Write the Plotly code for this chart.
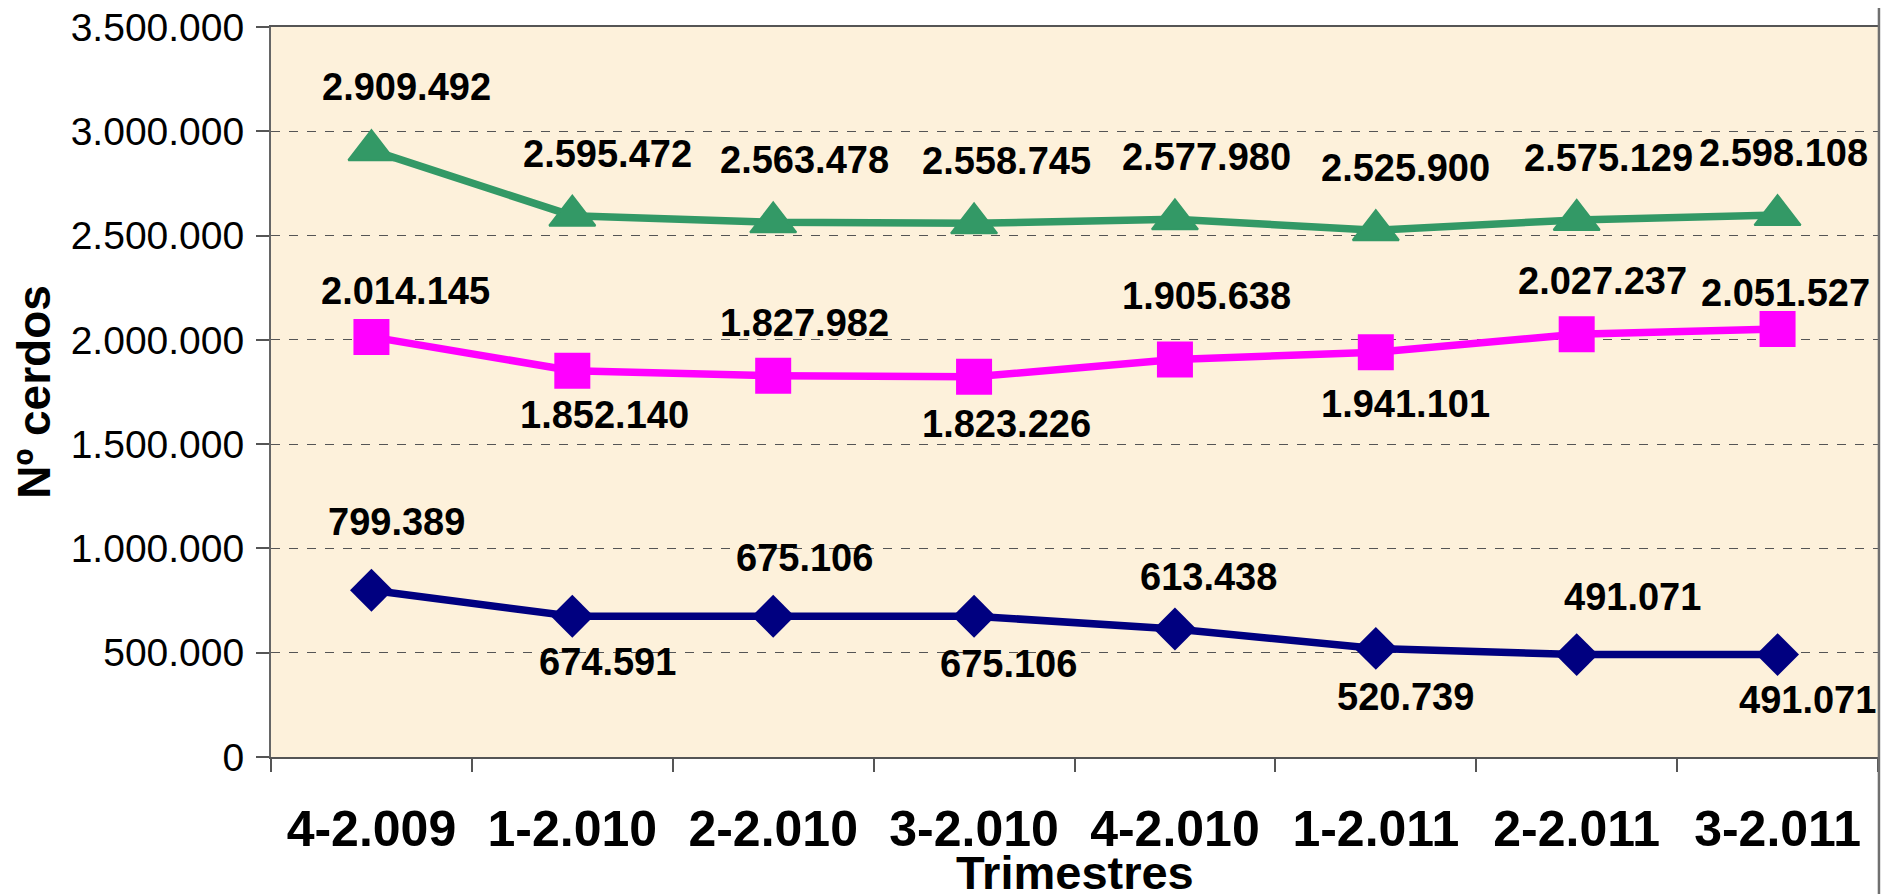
import plotly.graph_objects as go

categories = ["4-2.009", "1-2.010", "2-2.010", "3-2.010", "4-2.010", "1-2.011", "2-2.011", "3-2.011"]
serie_verde = [2909492, 2595472, 2563478, 2558745, 2577980, 2525900, 2575129, 2598108]
serie_magenta = [2014145, 1852140, 1827982, 1823226, 1905638, 1941101, 2027237, 2051527]
serie_azul = [799389, 674591, 675106, 675106, 613438, 520739, 491071, 491071]
y_ticks = [0, 500000, 1000000, 1500000, 2000000, 2500000, 3000000, 3500000]

# label offsets (pixels) - style only
shift_verde_y = [63, 62, 62, 62, 62, 62, 62, 62]
shift_verde_x = [35, 35, 31, 32, 32, 30, 32, 6]
shift_mag_y = [46, -44, 53, -47, 64, -52, 53, 36]
shift_mag_x = [34, 32, 31, 32, 32, 30, 26, 8]
shift_az_y = [68, -46, 58, -48, 52, -49, 58, -45]
shift_az_x = [25, 35, 31, 34, 34, 30, 56, 30]


def fmt(v):
    return f"{v:,}".replace(",", ".")


FONT = "Liberation Sans, Arial, sans-serif"

fig = go.Figure()
fig.add_trace(go.Scatter(x=categories, y=serie_azul, mode="lines+markers",
                         line=dict(color="#000080", width=7.5),
                         marker=dict(symbol="diamond", size=33, color="#000080"),
                         showlegend=False, hoverinfo="skip"))
fig.add_trace(go.Scatter(x=categories, y=serie_magenta, mode="lines+markers",
                         line=dict(color="#FF00FF", width=7.5),
                         marker=dict(symbol="square", size=36, color="#FF00FF"),
                         showlegend=False, hoverinfo="skip"))
fig.add_trace(go.Scatter(x=categories, y=serie_verde, mode="lines+markers",
                         line=dict(color="#339966", width=7.5),
                         marker=dict(symbol="triangle-up", size=40, color="#339966",
                                     line=dict(color="#339966", width=2)),
                         showlegend=False, hoverinfo="skip"))

annotations = []
for vals, sx, sy in [(serie_verde, shift_verde_x, shift_verde_y),
                     (serie_magenta, shift_mag_x, shift_mag_y),
                     (serie_azul, shift_az_x, shift_az_y)]:
    for c, v, dx, dy in zip(categories, vals, sx, sy):
        annotations.append(dict(x=c, y=v, xref="x", yref="y", text=fmt(v),
                                showarrow=False, xshift=dx, yshift=dy,
                                font=dict(family=FONT, size=38, color="black", weight="bold")))

# x-axis title placed as an annotation below the tick labels
annotations.append(dict(x=0.5, y=-0.158, xref="paper", yref="paper", text="Trimestres",
                        showarrow=False, xanchor="center", yanchor="middle",
                        font=dict(family=FONT, size=47, color="black", weight="bold")))

# page body has an 8px margin: figure sized/offset to compensate
fig.update_layout(
    width=1882, height=886,
    margin=dict(l=263, r=12, t=19, b=137),
    paper_bgcolor="white",
    plot_bgcolor="#FDF1DB",
    separators=",.",
    annotations=annotations,
    font=dict(family=FONT, color="black"),
    shapes=[dict(type="line", xref="paper", yref="paper", x0=1.0006, x1=1.0006, y0=-0.25, y1=1.05,
                 line=dict(color="#707070", width=2.5))],
)

fig.update_xaxes(
    type="category", range=[-0.5, 7.5], automargin=False,
    showline=True, linecolor="#555555", linewidth=2, mirror=True,
    ticks="outside", ticklen=13, tickcolor="#555555", tickwidth=1.5,
    tickson="boundaries", showgrid=False, zeroline=False,
    tickfont=dict(family=FONT, size=50, color="black", weight="bold"),
    ticklabelstandoff=27, ticklabeloverflow="allow",
)
fig.update_yaxes(
    range=[0, 3500000], tickvals=y_ticks, tickformat=",d", automargin=False,
    showline=True, linecolor="#666666", linewidth=2, mirror=True,
    ticks="outside", ticklen=13, tickcolor="#555555", tickwidth=1.5,
    showgrid=True, gridcolor="#555555", gridwidth=1, griddash="dash",
    zeroline=False,
    tickfont=dict(family=FONT, size=39, color="black"),
    ticklabelstandoff=4, ticklabeloverflow="allow",
    title=dict(text="Nº cerdos", font=dict(family=FONT, size=46, color="black", weight="bold"), standoff=10),
)

fig.write_html("out.html")
